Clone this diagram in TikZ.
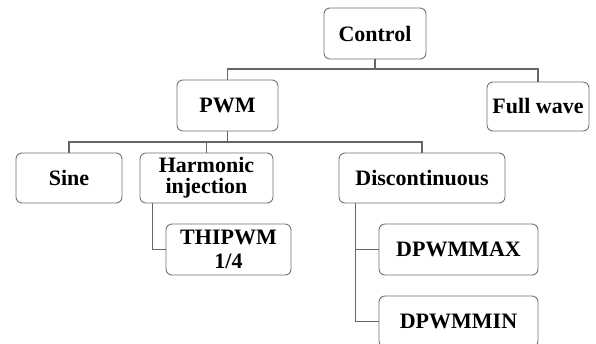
\documentclass[tikz,border=0pt]{standalone}
\usepackage{fontspec}
\setmainfont{Liberation Serif}
\begin{document}
\begin{tikzpicture}[x=1pt,y=-1pt,
  box/.style={draw=black!55, line width=0.9pt, rounded corners=6pt, fill=white,
    inner sep=0pt, align=center, minimum height=51pt,
    font=\fontsize{22}{22}\selectfont\bfseries},
  conn/.style={draw=black!60, line width=1.2pt}]
\useasboundingbox (0,0) rectangle (596,344);
\clip (0,0) rectangle (596,344);
\node[box, minimum width=102pt] (ctrl) at (375,33.5) {Control};
\node[box, minimum width=101pt] (pwm) at (227.5,105.5) {PWM};
\node[box, minimum width=102pt, minimum height=49pt] (full) at (538,106.5) {Full wave};
\node[box, minimum width=106pt, minimum height=50pt] (sine) at (69,178) {Sine};
\node[box, minimum width=133pt, minimum height=50pt, font=\fontsize{22}{21}\selectfont\bfseries] (harm) at (206.5,178) {Harmonic\\injection};
\node[box, minimum width=166pt, minimum height=50pt] (disc) at (422,178) {Discontinuous};
\node[box, minimum width=125pt, font=\fontsize{22}{24}\selectfont\bfseries] (thi) at (228.5,249.5) {THIPWM\\1/4};
\node[box, minimum width=159pt] (dmax) at (458.5,249.5) {DPWMMAX};
\node[box, minimum width=159pt] (dmin) at (458.5,321.5) {DPWMMIN};
\coordinate (j1) at (375,69);
\coordinate (j2) at (227.5,142);
\draw[conn] (ctrl.south) -- (j1) -| (pwm.north);
\draw[conn] (j1) -| (full.north);
\draw[conn] (pwm.south) -- (j2) -| (sine.north);
\draw[conn] (j2) -| (harm.north);
\draw[conn] (j2) -| (disc.north);
\draw[conn] ([xshift=13pt]harm.south west) |- (thi.west);
\draw[conn] ([xshift=17pt]disc.south west) |- (dmax.west);
\draw[conn] ([xshift=17pt]disc.south west) |- (dmin.west);
\end{tikzpicture}
\end{document}
